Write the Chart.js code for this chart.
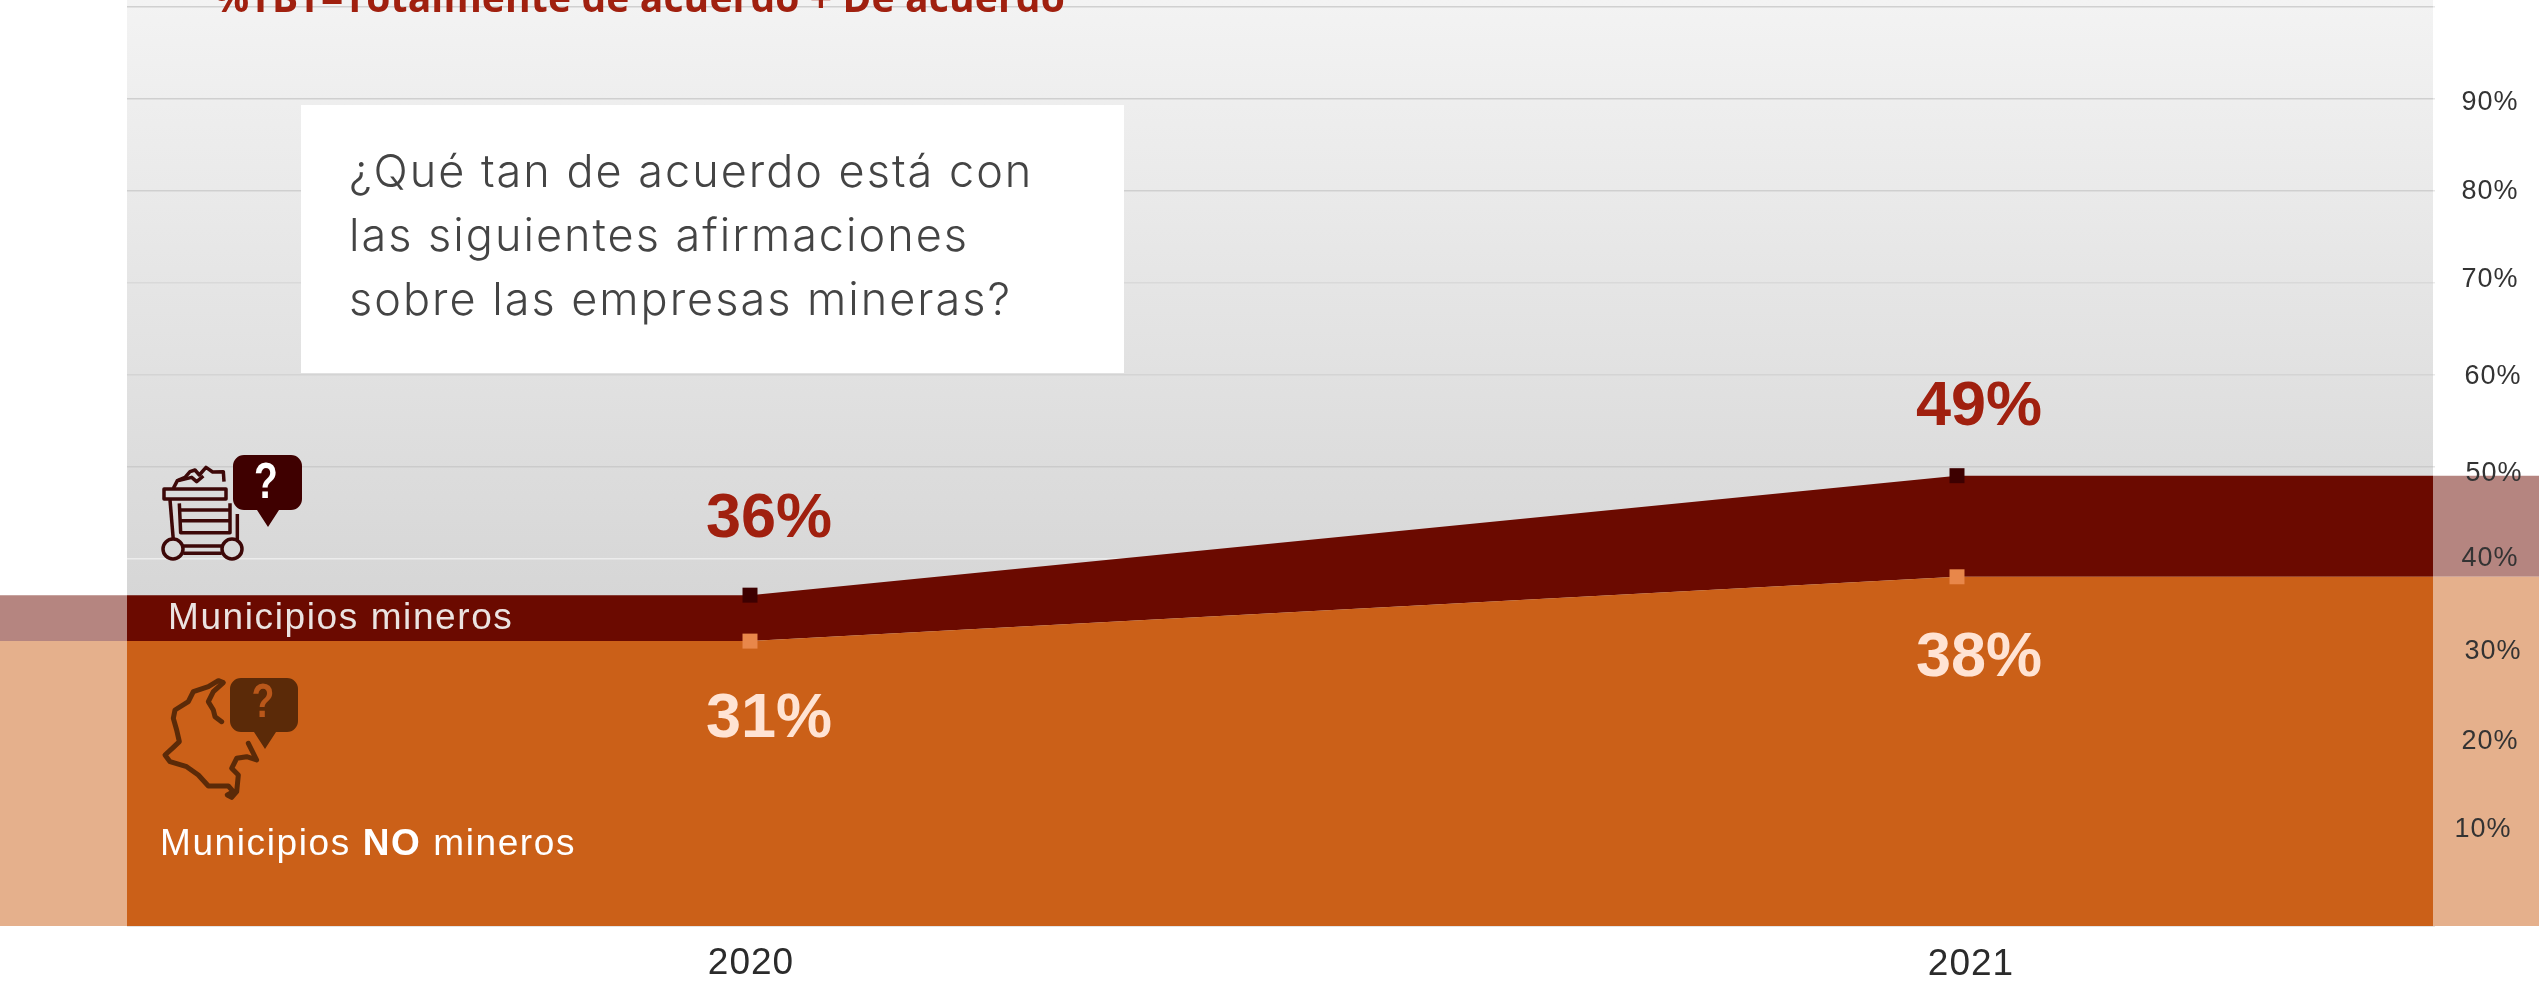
<!DOCTYPE html>
<html><head><meta charset="utf-8">
<script src="https://cdn.jsdelivr.net/npm/chart.js@4/dist/chart.umd.min.js"></script>
<style>html,body{margin:0;padding:0;background:#fff;overflow:hidden}canvas{display:block}</style>
</head><body><canvas id="c" width="2539" height="982"></canvas>
<script>
const years = [2020, 2021];
const mineros = [36, 49];
const noMineros = [31, 38];
const yTickValues = [0,10,20,30,40,50,60,70,80,90,100];
const yTickLabels = ['','10%','20%','30%','40%','50%','60%','70%','80%','90%',''];
const titleText = '%TBT=Totalmente de acuerdo + De acuerdo';
const questionLines = ['¿Qué tan de acuerdo está con','las siguientes afirmaciones','sobre las empresas mineras?'];

// layout tuning
const PLOT_L = 127, PLOT_R = 2433, W = 2539, H = 982, PLOT_B = 926;
const PX_PER_YEAR = 1207, X2020 = 750, X2021 = 1957;
const xMin = 2020 - X2020 / PX_PER_YEAR, xMax = 2021 + (W - X2021) / PX_PER_YEAR;
const yMax = PLOT_B / 9.19;
const gridColors = ['#ccc','#ccc','#ccc','#ccc','#ececec','#cbcbcb','#d4d4d4','#d9d9d9','#cfcfcf','#cfcfcf','#d0d0d0'];
const tickPlace = {'10%':[2483,-5],'20%':[2490,-1],'30%':[2493,1],'40%':[2490,0],'50%':[2494,7],'60%':[2493,2],'70%':[2490,-3],'80%':[2490,1],'90%':[2490,4]};
const xLabelPlace = {'2020':[751,964],'2021':[1971,965]};
const labelOff = [[[19,-76],[22,-68]],[[19,79],[22,82]]];

const edge = s => [{x:xMin,y:s[0]},{x:years[0],y:s[0]},{x:years[1],y:s[1]},{x:xMax,y:s[1]}];
const ptR = c => (c.dataIndex===1||c.dataIndex===2) ? 10.6 : 0;

function bubble(g,x0,y0,x1,y1,tipX,tipY,r,fill){
  const m=tipX;
  g.fillStyle=fill;g.beginPath();
  g.moveTo(x0+r,y0);g.lineTo(x1-r,y0);g.arcTo(x1,y0,x1,y0+r,r);
  g.lineTo(x1,y1-r);g.arcTo(x1,y1,x1-r,y1,r);
  g.lineTo(m+11,y1);g.lineTo(tipX,tipY);g.lineTo(m-11,y1);
  g.lineTo(x0+r,y1);g.arcTo(x0,y1,x0,y1-r,r);
  g.lineTo(x0,y0+r);g.arcTo(x0,y0,x0+r,y0,r);g.closePath();g.fill();
}
function poly(g,pts,ox,oy){ // zoomed-crop coords (3x) to page
  g.beginPath();pts.forEach((p,i)=>{const x=ox+p[0]/3,y=oy+p[1]/3;i?g.lineTo(x,y):g.moveTo(x,y);});g.stroke();
}
function qmark(g,x,y,size,color){
  g.save();g.translate(x,y);g.scale(0.78,1);g.fillStyle=color;g.font='bold '+size+'px "Liberation Sans"';g.textAlign='center';g.textBaseline='middle';g.letterSpacing='0px';g.fillText('?',0,0);g.restore();
}
function cart(g){
  const ox=140,oy=440;
  g.save();g.strokeStyle='#3d0808';g.lineWidth=3.5;g.lineJoin='round';
  g.strokeRect(164,489,62,10);
  poly(g,[[90,180],[100,300]],ox,oy);
  poly(g,[[118,190],[122,278],[270,278],[270,190]],ox,oy);
  poly(g,[[118,210],[270,210]],ox,oy);poly(g,[[120,242],[270,242]],ox,oy);
  poly(g,[[292,222],[292,300]],ox,oy);
  poly(g,[[130,318],[245,318]],ox,oy);poly(g,[[130,340],[245,340]],ox,oy);
  g.beginPath();g.arc(173,549,10,0,7);g.stroke();
  g.beginPath();g.arc(232,549,10,0,7);g.stroke();
  poly(g,[[100,145],[112,122],[135,112],[150,95],[165,90],[178,105],[198,82],[218,96],[250,95],[252,125]],ox,oy);
  poly(g,[[115,122],[155,112],[170,125],[190,108]],ox,oy);
  g.restore();
  bubble(g,233,455,302,510,268,527,11,'#3f0000');
  qmark(g,266,484,50,'#fff');
}
function colombia(g){
  g.save();g.strokeStyle='#5b2a08';g.lineWidth=5;g.lineJoin='round';g.lineCap='round';
  poly(g,[[245,185],[225,170],[220,150],[205,125],[220,95],[250,68],[235,62],[205,80],[160,95],[145,125],[105,150],[100,175],[110,210],[118,245],[100,262],[75,285],[90,305],[140,320],[175,345],[205,378],[265,378],[280,395],[262,405],[275,412],[290,395],[295,345],[275,325],[290,295],[320,290],[350,300],[325,250]],140,660);
  g.restore();
  bubble(g,230,678,298,732,265,749,11,'#5b2a08');
  qmark(g,263,704,48,'#b9571a');
}
function txt(g,s,x,y,font,color,align,ls){
  g.font=font;g.fillStyle=color;g.textAlign=align||'left';g.textBaseline='alphabetic';g.letterSpacing=ls||'0px';g.fillText(s,x,y);
}
const decor = {
  id:'decor',
  beforeDraw(chart){
    const g=chart.ctx;
    g.save();g.fillStyle='#fff';g.fillRect(0,0,W,H);
    const gr=g.createLinearGradient(0,0,0,600);
    gr.addColorStop(0,'#f3f3f3');gr.addColorStop(1,'#d6d6d6');
    g.fillStyle=gr;g.fillRect(PLOT_L,0,PLOT_R-PLOT_L,PLOT_B);
    g.restore();
    g.letterSpacing='1px';
    const y=chart.scales.y, x=chart.scales.x;
    y.getLabelItems().forEach(it=>{const p=tickPlace[it.label];if(!p)return;
      const base=y.getPixelForValue(yTickValues[yTickLabels.indexOf(it.label)]);
      it.textOffset=0;it.options.textAlign='center';it.options.textBaseline='middle';it.options.translation=[p[0],base+p[1]];});
    x.getLabelItems().forEach(it=>{const p=xLabelPlace[it.label];if(!p)return;
      it.textOffset=0;it.options.textAlign='center';it.options.textBaseline='middle';it.options.translation=p;});
  },
  beforeDatasetsDraw(chart){
    const g=chart.ctx;g.save();g.fillStyle='#fff';
    g.fillRect(0,0,PLOT_L,PLOT_B+2);g.fillRect(PLOT_R+2,0,W-PLOT_R,PLOT_B+2);
    g.restore();
  },
  afterDatasetsDraw(chart){
    const g=chart.ctx;g.save();
    g.fillStyle='rgba(255,255,255,0.5)';
    g.fillRect(0,0,PLOT_L,PLOT_B);g.fillRect(PLOT_R,0,W-PLOT_R,PLOT_B);
    // title + question box
    txt(g,titleText,214,12,'bold 39px "Open Sans"','#a0200f','left','0.15px');
    g.fillStyle='#fff';g.fillRect(301,105,823,268);
    questionLines.forEach((l,i)=>txt(g,l,349,187+i*64,'300 45px "Inter"','#444','left','2px'));
    // data labels
    [0,1].forEach(ds=>{
      const meta=chart.getDatasetMeta(ds),vals=ds?noMineros:mineros,col=ds?'#ffe3d3':'#a0200f';
      [0,1].forEach(i=>{const pt=meta.data[i+1],o=labelOff[ds][i];
        g.font='bold 63px "Liberation Sans"';g.fillStyle=col;g.textAlign='center';g.textBaseline='middle';g.letterSpacing='0px';
        g.fillText(vals[i]+'%',pt.x+o[0],pt.y+o[1]);});
    });
    cart(g);colombia(g);
    txt(g,'Municipios mineros',168,629,'37px "Liberation Sans"','#ebe3e1','left','1.6px');
    txt(g,'Municipios ',160,855,'37px "Liberation Sans"','#fff','left','1.6px');
    let w=g.measureText('Municipios ').width;
    txt(g,'NO',160+w,855,'bold 37px "Liberation Sans"','#fff','left','1.6px');
    w+=g.measureText('NO').width;
    txt(g,' mineros',160+w,855,'37px "Liberation Sans"','#fff','left','1.6px');
    g.restore();
  }
};
const noPad = s => {s.paddingTop=0;s.paddingBottom=0;s.paddingLeft=0;s.paddingRight=0;};
new Chart(document.getElementById('c'),{
  type:'line',
  data:{datasets:[
    {label:'Municipios mineros',data:edge(mineros),borderWidth:0,backgroundColor:'#6b0a00',fill:1,order:2,
     pointStyle:'rect',pointRadius:ptR,pointBackgroundColor:'#3d0000',pointBorderWidth:0,tension:0},
    {label:'Municipios NO mineros',data:edge(noMineros),borderWidth:0,backgroundColor:'#cb6018',fill:'origin',order:1,
     pointStyle:'rect',pointRadius:ptR,pointBackgroundColor:'#e8874a',pointBorderWidth:0,tension:0}
  ]},
  options:{
    responsive:false,animation:false,
    layout:{padding:0},
    plugins:{legend:{display:false},title:{display:false},tooltip:{enabled:false}},
    scales:{
      x:{type:'linear',min:xMin,max:xMax,
        afterBuildTicks:s=>{s.ticks=years.map(v=>({value:v}));},
        afterFit:s=>{s.height=H-PLOT_B;noPad(s);},
        grid:{display:false},border:{display:false},
        ticks:{callback:v=>String(v),autoSkip:false,maxRotation:0,color:'#2b2b2b',font:{family:'"Liberation Sans"',size:37},z:1}},
      y:{type:'linear',position:'right',min:0,max:yMax,
        afterBuildTicks:s=>{s.ticks=yTickValues.map(v=>({value:v}));},
        afterFit:s=>{s.width=0;noPad(s);},
        grid:{color:c=>gridColors[c.index],lineWidth:1.5,drawTicks:false},border:{display:false},
        ticks:{callback:(v)=>yTickLabels[yTickValues.indexOf(v)],autoSkip:false,mirror:true,color:'#333',font:{family:'"Liberation Sans"',size:27},z:1}}
    }
  },
  plugins:[decor]
});
</script></body></html>
